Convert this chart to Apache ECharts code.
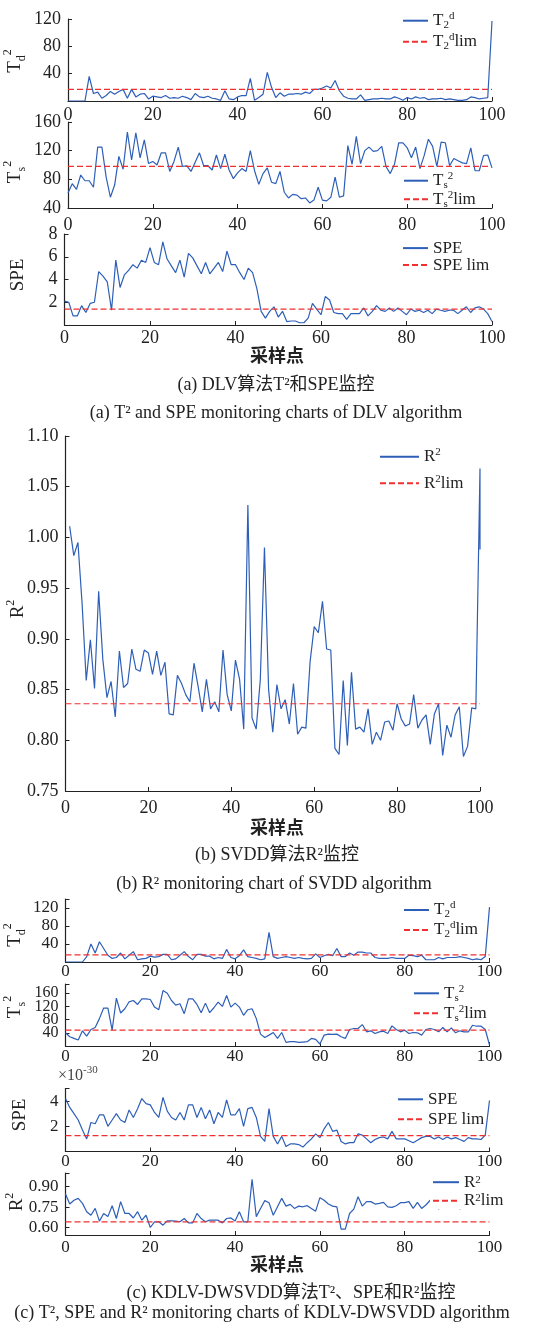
<!DOCTYPE html>
<html>
<head>
<meta charset="utf-8">
<script src="https://cdn.jsdelivr.net/npm/echarts@6/dist/echarts.min.js"></script>
<style>
  html, body { margin: 0; padding: 0; background: #fff; }
  #chart { width: 552px; height: 1331px; }
</style>
</head>
<body>
<div id="chart"></div>
<script>
// ---------- data ----------
// sample axis ticks (shared by every panel)
const sampleTicks = [0, 20, 40, 60, 80, 100];

// (a) DLV: samples 0..100
const dlvTd2 = [0, 0, 0, 0, 0, 36, 11, 13, 4, 8, 14, 10, 14, 17, 4, 17, 6, 10, 11, 3,
  7, 6, 5, 8, 4, 5, 4, 7, 5, 2, 11, 6, 5, 7, 4, 3, 1, 15, 3, 2,
  6, 8, 8, 33, 1, 5, 10, 42, 20, 5, 12, 7, 10, 10, 11, 10, 13, 11, 17, 17,
  19, 22, 19, 30, 15, 7, 4, 3, 3, 9, 1, 2, 3, 3, 4, 3, 3, 6, 4, 1,
  5, 3, 6, 4, 5, 2, 3, 3, 4, 2, 3, 2, 1, 1, 2, 6, 5, 3, 4, 5, 117];
const dlvTd2Lim = 17;

const dlvTs2 = [61, 74, 66, 86, 78, 78, 69, 125, 125, 83, 55, 72, 112, 94, 146, 107, 145, 110, 135, 102,
  105, 100, 117, 117, 91, 105, 125, 98, 99, 91, 104, 117, 99, 99, 93, 114, 95, 115, 93, 81,
  89, 95, 91, 120, 92, 73, 88, 96, 76, 74, 91, 62, 54, 59, 58, 53, 54, 47, 51, 69,
  51, 50, 55, 83, 55, 57, 127, 101, 140, 102, 120, 125, 119, 120, 126, 98, 88, 101, 131, 131,
  124, 110, 125, 95, 113, 136, 126, 98, 132, 131, 99, 109, 106, 103, 102, 124, 92, 92, 113, 114, 96];
const dlvTs2Lim = 98;

const dlvSpe = [2.1, 2.0, 0.8, 0.8, 1.7, 1.1, 1.9, 2.0, 4.7, 4.3, 3.8, 1.3, 5.7, 3.3, 4.4, 4.8, 5.3, 5.0, 5.7, 5.5,
  6.8, 5.5, 5.3, 7.3, 5.8, 5.2, 4.6, 5.7, 4.2, 6.3, 5.9, 5.2, 4.5, 5.5, 4.5, 5.0, 5.5, 4.7, 6.5, 5.3,
  5.3, 4.6, 4.0, 5.0, 4.6, 3.2, 1.2, 0.6, 1.2, 1.6, 0.7, 1.2, 0.3, 0.35, 0.35, 0.2, 0.2, 0.6, 1.9, 1.4,
  0.9, 2.5, 2.2, 1.1, 1.0, 1.0, 0.5, 1.0, 1.0, 1.0, 1.5, 0.8, 1.2, 1.7, 1.3, 1.2, 1.5, 1.2, 1.5, 1.2,
  0.9, 1.4, 1.2, 1.3, 1.1, 1.3, 1.0, 1.4, 1.3, 1.2, 1.3, 1.3, 1.0, 1.3, 1.6, 1.1, 1.5, 1.6, 1.4, 1.0, 0.3];
const dlvSpeLim = 1.4;

// (b) SVDD: samples 1..100, then the final read-back at sample 100
const svddR2 = [1.011, 0.982, 0.995, 0.935, 0.859, 0.899, 0.851, 0.947, 0.880, 0.842,
  0.858, 0.823, 0.888, 0.852, 0.856, 0.890, 0.870, 0.868, 0.889, 0.886,
  0.865, 0.888, 0.864, 0.877, 0.826, 0.825, 0.864, 0.856, 0.845, 0.838,
  0.876, 0.853, 0.828, 0.860, 0.831, 0.838, 0.828, 0.889, 0.845, 0.829,
  0.879, 0.860, 0.811, 1.032, 0.822, 0.811, 0.860, 0.990, 0.850, 0.808,
  0.855, 0.831, 0.840, 0.816, 0.856, 0.806, 0.813, 0.812, 0.877, 0.912,
  0.906, 0.937, 0.890, 0.889, 0.792, 0.786, 0.859, 0.795, 0.867, 0.811,
  0.813, 0.808, 0.831, 0.796, 0.808, 0.800, 0.818, 0.819, 0.810, 0.836,
  0.821, 0.814, 0.816, 0.845, 0.812, 0.820, 0.825, 0.796, 0.826, 0.836,
  0.785, 0.815, 0.803, 0.825, 0.833, 0.784, 0.794, 0.832, 0.831, 1.068];
const svddR2Last = 0.988;
const svddR2Lim = 0.836;

// (c) KDLV-DWSVDD: samples 0..100
const kdTd2 = [0, 0, 0, 0, 0, 12, 40, 20, 45, 30, 15, 8, 10, 20, 7, 15, 23, 5, 7, 8,
  13, 11, 12, 17, 17, 5, 7, 15, 23, 12, 5, 17, 17, 13, 13, 7, 10, 8, 28, 10,
  7, 14, 27, 12, 10, 8, 5, 7, 66, 12, 8, 10, 12, 10, 8, 10, 8, 7, 8, 18,
  10, 14, 17, 14, 30, 12, 12, 20, 15, 22, 22, 20, 20, 10, 8, 8, 8, 10, 8, 8,
  8, 15, 14, 12, 15, 5, 5, 5, 10, 7, 10, 10, 10, 12, 10, 8, 5, 7, 5, 12, 122];
const kdTd2Lim = 16;

const kdTs2 = [40, 28, 23, 18, 46, 30, 50, 56, 83, 115, 115, 48, 145, 100, 113, 134, 138, 126, 143, 143,
  141, 118, 110, 168, 160, 138, 124, 128, 98, 143, 143, 126, 101, 130, 101, 116, 133, 120, 153, 118,
  130, 118, 93, 110, 113, 83, 36, 26, 33, 41, 23, 41, 11, 13, 13, 11, 12, 13, 23, 20,
  6, 33, 36, 35, 36, 28, 23, 50, 53, 53, 65, 43, 46, 38, 43, 45, 38, 61, 50, 43,
  48, 38, 41, 40, 33, 50, 53, 50, 43, 56, 43, 55, 40, 46, 43, 43, 63, 60, 60, 50, 3];
const kdTs2Lim = 48;

const kdSpe = [4.2, 3.5, 3.0, 2.5, 1.7, 1.0, 2.3, 2.2, 2.9, 2.9, 2.0, 2.5, 3.0, 2.5, 2.3, 3.3, 2.7, 3.4, 4.2, 3.8,
  3.7, 3.1, 2.7, 4.3, 3.2, 2.7, 2.5, 3.1, 2.5, 3.7, 3.7, 2.7, 3.5, 2.6, 3.3, 2.2, 3.1, 2.7, 4.1, 2.9,
  2.9, 3.4, 2.0, 3.4, 3.5, 2.7, 1.2, 0.8, 3.4, 1.2, 0.6, 1.2, 0.4, 0.6, 0.6, 0.55, 0.35, 0.7, 1.0, 1.4,
  1.1, 1.8, 2.3, 1.6, 1.7, 0.8, 0.6, 0.7, 0.7, 1.4, 1.3, 1.0, 0.7, 0.95, 1.1, 1.15, 1.0, 1.6, 1.0, 1.0,
  1.0, 0.85, 0.7, 0.9, 1.1, 1.2, 1.2, 1.0, 1.15, 0.95, 1.15, 1.0, 1.1, 0.95, 0.8, 1.1, 1.0, 1.0, 0.95, 1.3, 4.05];
const kdSpeLim = 1.26;

const kdR2 = [0.846, 0.772, 0.800, 0.814, 0.777, 0.716, 0.690, 0.740, 0.647, 0.703,
  0.680, 0.760, 0.666, 0.790, 0.703, 0.703, 0.670, 0.716, 0.654, 0.690,
  0.600, 0.642, 0.642, 0.617, 0.649, 0.649, 0.647, 0.642, 0.666, 0.634,
  0.634, 0.703, 0.666, 0.642, 0.654, 0.654, 0.654, 0.634, 0.666, 0.670,
  0.647, 0.716, 0.642, 0.642, 0.954, 0.680, 0.740, 0.797, 0.782, 0.690,
  0.752, 0.814, 0.757, 0.770, 0.740, 0.757, 0.752, 0.760, 0.740, 0.720,
  0.819, 0.800, 0.772, 0.757, 0.752, 0.588, 0.588, 0.703, 0.735, 0.826,
  0.757, 0.790, 0.790, 0.772, 0.777, 0.784, 0.752, 0.748, 0.760, 0.782,
  0.782, 0.790, 0.740, 0.784, 0.740, 0.765, 0.800, 0.790, 0.735, 0.780,
  0.738, 0.790, 0.770, 0.735, 0.780, 0.738, 0.790, 0.800, 0.790, 0.780, 0.740];
const kdR2Lim = 0.642;

// ---------- styles ----------
const FONT = "'Liberation Serif', 'Noto Sans CJK SC', serif";
const BLUE = '#2d5fb8';
const RED = '#f03030';
const INK = '#222';

function pairs(values, first) {
  return values.map((v, i) => [first + i, v]);
}

// legend / axis-name rich styles: n = normal, sup = superscript, sub = subscript
function legendRich(lh, size) {
  return {
    n: { fontFamily: FONT, fontSize: size, lineHeight: lh, color: INK },
    sup: { fontFamily: FONT, fontSize: Math.round(size * 0.65), lineHeight: 8, verticalAlign: 'top', color: INK },
    sub: { fontFamily: FONT, fontSize: Math.round(size * 0.65), lineHeight: 8, verticalAlign: 'bottom', color: INK }
  };
}

const legendText = {
  dlvTd2: '{n|T}{sub|2}{sup|d}', dlvTd2Lim: '{n|T}{sub|2}{sup|d}{n|lim}',
  dlvTs2: '{n|T}{sub|s}{sup|2}', dlvTs2Lim: '{n|T}{sub|s}{sup|2}{n|lim}',
  dlvSpe: '{n|SPE}', dlvSpeLim: '{n|SPE lim}',
  svddR2: '{n|R}{sup|2}', svddR2Lim: '{n|R}{sup|2}{n|lim}',
  kdTd2: '{n|T}{sub|2}{sup|d}', kdTd2Lim: '{n|T}{sub|2}{sup|d}{n|lim}',
  kdTs2: '{n|T}{sub|s}{sup|2}', kdTs2Lim: '{n|T}{sub|s}{sup|2}{n|lim}',
  kdSpe: '{n|SPE}', kdSpeLim: '{n|SPE lim}',
  kdR2: '{n|R}{sup|2}', kdR2Lim: '{n|R}{sup|2}{n|lim}'
};

// one entry per panel: grid rectangle, y scale, series, legend placement.
// y.labels2: extra labels carried by a second, line-less axis on the same side
// (the T_s^2 scale of (c) is so tight that neighbouring labels touch).
const panels = [
  { id: 'dlvTd2', grid: { left: 68, top: 19, width: 424, height: 82 },
    y: { min: 0, max: 120, labels: [40, 80, 120], ticks: [40, 80, 120], dec: 0 },
    data: pairs(dlvTd2, 0), lim: dlvTd2Lim, fs: 18, xMargin: 5,
    legend: { left: 402, top: 10.7, w: 25, lh: 20, gap: 1 } },
  { id: 'dlvTs2', grid: { left: 68, top: 122, width: 424, height: 86 },
    y: { min: 40, max: 160, labels: [40, 80, 120, 160], ticks: [80, 120, 160], dec: 0 },
    data: pairs(dlvTs2, 0), lim: dlvTs2Lim, fs: 18, xMargin: 8,
    legend: { left: 403, top: 170.7, w: 24, lh: 20, gap: -1.4 } },
  { id: 'dlvSpe', grid: { left: 64.5, top: 234, width: 427.5, height: 91 },
    y: { min: 0, max: 8, labels: [2, 4, 6, 8], ticks: [2, 4, 6, 8], dec: 0 },
    data: pairs(dlvSpe, 0), lim: dlvSpeLim, fs: 18, xMargin: 4,
    legend: { left: 402, top: 239.6, w: 25, lh: 15.4, gap: 0 } },
  { id: 'svddR2', grid: { left: 65.5, top: 436, width: 414.5, height: 355 },
    y: { min: 0.75, max: 1.10, labels: [0.75, 0.80, 0.85, 0.90, 0.95, 1.00, 1.05, 1.10],
         ticks: [0.80, 0.85, 0.90, 0.95, 1.00, 1.05, 1.10], dec: 2 },
    data: pairs(svddR2, 1).concat([[100, svddR2Last]]), lim: svddR2Lim, fs: 18, xMargin: 8,
    legend: { left: 379, top: 446.7, w: 39, lh: 20, gap: 6.6 } },
  { id: 'kdTd2', grid: { left: 65.5, top: 899, width: 424, height: 63 },
    y: { min: 0, max: 140, labels: [40, 80, 120], ticks: [40, 80, 120, 140], dec: 0 },
    data: pairs(kdTd2, 0), lim: kdTd2Lim, fs: 17, xMargin: 1,
    legend: { left: 403, top: 900, w: 25, lh: 20, gap: 0 } },
  { id: 'kdTs2', grid: { left: 65.5, top: 984, width: 424, height: 62 },
    y: { min: 0, max: 188, labels: [40, 120], labels2: [80, 160], ticks: [40, 80, 120, 160, 188], dec: 0 },
    data: pairs(kdTs2, 0), lim: kdTs2Lim, fs: 17, yfs: 16, xMargin: 2,
    legend: { left: 413, top: 983.3, w: 25, lh: 20, gap: 0 } },
  { id: 'kdSpe', grid: { left: 65.5, top: 1088.5, width: 424, height: 63 },
    y: { min: 0, max: 5, labels: [2, 4], ticks: [2, 4, 5], dec: 0 },
    data: pairs(kdSpe, 0), lim: kdSpeLim, fs: 17, xMargin: 2,
    legend: { left: 397, top: 1089.3, w: 25, lh: 20, gap: 0 } },
  { id: 'kdR2', grid: { left: 65.5, top: 1173, width: 424, height: 62 },
    y: { min: 0.545, max: 1.0, labels: [0.60, 0.75, 0.90], ticks: [0.60, 0.75, 0.90, 1.0], dec: 2 },
    data: pairs(kdR2, 0), lim: kdR2Lim, fs: 17, xMargin: 4,
    legend: { left: 430, top: 1171.7, w: 26, lh: 16, gap: 1.6, pad: [2, 4, 0, 2], bg: '#fff' } }
];

const grids = [], xAxes = [], yAxes = [], extraY = [], series = [], legends = [];

panels.forEach((p, gi) => {
  grids.push(Object.assign({ outerBoundsMode: 'none', containLabel: false }, p.grid));

  xAxes.push({
    type: 'value', gridIndex: gi, min: 0, max: 100, interval: 20,
    axisLine: { show: true, onZero: false, lineStyle: { color: INK, width: 1.2 } },
    axisTick: { show: true, inside: true, length: 4, lineStyle: { color: INK, width: 1 } },
    axisLabel: { show: true, fontFamily: FONT, fontSize: p.fs, color: INK, margin: p.xMargin,
      hideOverlap: false, showMinLabel: true, showMaxLabel: true, customValues: sampleTicks },
    splitLine: { show: false }
  });

  const yLabelStyle = (values) => ({
    show: true, fontFamily: FONT, fontSize: p.yfs || p.fs, color: INK, margin: 7,
    hideOverlap: false, showMinLabel: true, showMaxLabel: true, customValues: values,
    formatter: (v) => Number(v).toFixed(p.y.dec)
  });

  yAxes.push({
    type: 'value', gridIndex: gi, min: p.y.min, max: p.y.max, position: 'left',
    axisLine: { show: true, onZero: false, lineStyle: { color: INK, width: 1.2 } },
    axisTick: { show: true, inside: true, length: 4, lineStyle: { color: INK, width: 1 },
      customValues: p.y.ticks },
    axisLabel: yLabelStyle(p.y.labels),
    splitLine: { show: false }
  });
  if (p.y.labels2) {
    extraY.push({
      type: 'value', gridIndex: gi, min: p.y.min, max: p.y.max, position: 'left', offset: 0,
      axisLine: { show: false, onZero: false }, axisTick: { show: false },
      axisLabel: yLabelStyle(p.y.labels2),
      splitLine: { show: false }
    });
  }

  series.push({
    name: p.id, type: 'line', xAxisIndex: gi, yAxisIndex: gi,
    data: p.data, symbol: 'none', showSymbol: false, silent: true,
    lineStyle: { color: BLUE, width: 1.2 }, itemStyle: { color: BLUE }, z: 2
  });
  series.push({
    name: p.id + 'Lim', type: 'line', xAxisIndex: gi, yAxisIndex: gi,
    data: [[0, p.lim], [100, p.lim]], symbol: 'none', showSymbol: false, silent: true,
    lineStyle: { color: RED, width: 1.2, type: [6, 3] }, itemStyle: { color: RED }, z: 3
  });

  const L = p.legend;
  legends.push({
    orient: 'vertical', left: L.left, top: L.top,
    padding: L.pad || 0, itemGap: L.gap, itemWidth: L.w, itemHeight: 10,
    backgroundColor: L.bg || 'transparent',
    selectedMode: false,
    // legend keys are plain line samples, no marker
    itemStyle: { opacity: 0, borderWidth: 0 },
    data: [p.id, p.id + 'Lim'],
    formatter: (name) => legendText[name],
    textStyle: { fontFamily: FONT, fontSize: 17, color: INK, lineHeight: L.lh, rich: legendRich(L.lh, 17) }
  });
});

// axis titles, sample-axis names and captions
const nameRich = {
  n: { fontFamily: FONT, fontSize: 19, lineHeight: 26 },
  sup: { fontFamily: FONT, fontSize: 12, lineHeight: 9, verticalAlign: 'top' },
  sub: { fontFamily: FONT, fontSize: 12, lineHeight: 9, verticalAlign: 'bottom' }
};
function yName(x, y, text) {
  return { type: 'text', x: x, y: y, rotation: Math.PI / 2, silent: true,
    style: { text: text, fontFamily: FONT, fontSize: 19, fill: INK, align: 'center',
      verticalAlign: 'middle', rich: nameRich } };
}
function plainText(x, y, text, size, weight) {
  return { type: 'text', x: x, y: y, silent: true,
    style: { text: text, fontFamily: FONT, fontSize: size, fontWeight: weight || 'normal',
      fill: INK, align: 'center', verticalAlign: 'middle' } };
}

const graphics = [
  yName(15, 61, '{n|T}{sub|d}{sup|2}'),
  yName(15, 172, '{n|T}{sub|s}{sup|2}'),
  yName(18, 275, '{n|SPE}'),
  yName(18, 609, '{n|R}{sup|2}'),
  yName(15, 935, '{n|T}{sub|d}{sup|2}'),
  yName(15, 1007, '{n|T}{sub|s}{sup|2}'),
  yName(20, 1115, '{n|SPE}'),
  yName(17, 1202, '{n|R}{sup|2}'),
  plainText(277, 357, '采样点', 18, 'bold'),
  plainText(277, 829, '采样点', 18, 'bold'),
  plainText(277, 1266, '采样点', 18, 'bold'),
  plainText(276, 385, '(a) DLV算法T²和SPE监控', 18),
  plainText(276, 413, '(a) T² and SPE monitoring charts of DLV algorithm', 18),
  plainText(277, 855, '(b) SVDD算法R²监控', 18),
  plainText(274, 884, '(b) R² monitoring chart of SVDD algorithm', 18),
  plainText(291, 1293, '(c) KDLV-DWSVDD算法T²、SPE和R²监控', 18),
  plainText(262, 1313, '(c) T², SPE and R² monitoring charts of KDLV-DWSVDD algorithm', 18),
  { type: 'text', x: 58, y: 1076, silent: true,
    style: { text: '{n|×10}{sup|-30}', fontFamily: FONT, fontSize: 16, fill: '#444',
      align: 'left', verticalAlign: 'middle',
      rich: { n: { fontFamily: FONT, fontSize: 16, lineHeight: 22 },
              sup: { fontFamily: FONT, fontSize: 11, lineHeight: 9, verticalAlign: 'top' } } } }
];

const chart = echarts.init(document.getElementById('chart'), null, { renderer: 'canvas' });
chart.setOption({
  animation: false,
  backgroundColor: '#fff',
  grid: grids,
  xAxis: xAxes,
  yAxis: yAxes.concat(extraY),
  legend: legends,
  series: series,
  graphic: graphics
});
</script>
</body>
</html>
